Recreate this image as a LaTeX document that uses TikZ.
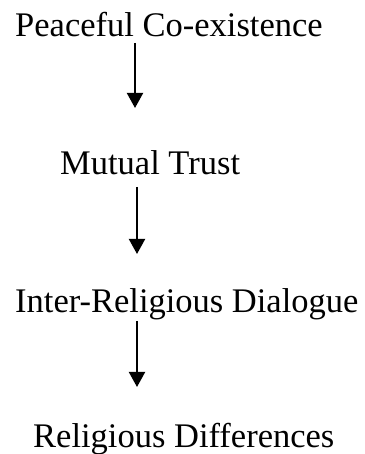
\documentclass[tikz,border=0pt]{standalone}
\usepackage{fontspec}
\setmainfont{Liberation Serif}
\usetikzlibrary{arrows.meta}

\begin{document}
\begin{tikzpicture}[x=1pt,y=1pt]
      \tikzstyle{every node} = [inner sep = 0pt, anchor = base west];
      \tikzstyle{label} = [font = \fontsize{34.5}{40}\selectfont];
      \tikzstyle{flow} = [->, >={Triangle[length=15pt,width=16pt]}, line width=2pt];
      \useasboundingbox (0,0) rectangle (364,454);
      \node(peace) [label] at (15,417) {Peaceful Co-existence};
      \node(trust) [label] at (60,279) {Mutual Trust};
      \node(dialog) [label] at (15,141) {Inter-Religious Dialogue};
      \node(diff) [label] at (33,6) {Religious Differences};
      \coordinate (s1) at (135,411);
      \coordinate (e1) at (135,346);
      \coordinate (s2) at (137,267);
      \coordinate (e2) at (137,200);
      \coordinate (s3) at (137,133);
      \coordinate (e3) at (137,67);
      \foreach \i in {1,2,3}{
        \draw[flow] (s\i) -- (e\i);
      }
    \end{tikzpicture}
\end{document}
